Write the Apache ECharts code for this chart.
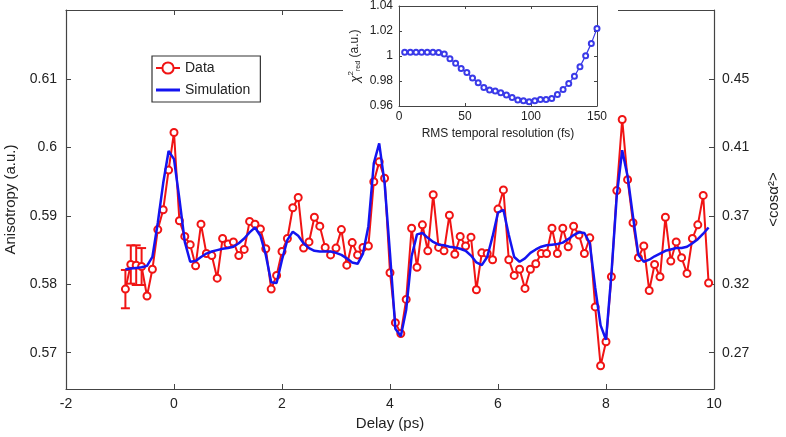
<!DOCTYPE html>
<html>
<head>
<meta charset="utf-8">
<script src="https://cdn.jsdelivr.net/npm/echarts@6/dist/echarts.min.js"></script>
<style>
  html, body { margin: 0; padding: 0; background: #fff; }
  #main { width: 786px; height: 437px; }
</style>
</head>
<body>
<div id="main"></div>
<script>
// delay axis (ps), one sample every 0.1 ps
var delay = [-0.9,-0.8,-0.7,-0.6,-0.5,-0.4,-0.3,-0.2,-0.1,0.0,
  0.1,0.2,0.3,0.4,0.5,0.6,0.7,0.8,0.9,1.0,
  1.1,1.2,1.3,1.4,1.5,1.6,1.7,1.8,1.9,2.0,
  2.1,2.2,2.3,2.4,2.5,2.6,2.7,2.8,2.9,3.0,
  3.1,3.2,3.3,3.4,3.5,3.6,3.7,3.8,3.9,4.0,
  4.1,4.2,4.3,4.4,4.5,4.6,4.7,4.8,4.9,5.0,
  5.1,5.2,5.3,5.4,5.5,5.6,5.7,5.8,5.9,6.0,
  6.1,6.2,6.3,6.4,6.5,6.6,6.7,6.8,6.9,7.0,
  7.1,7.2,7.3,7.4,7.5,7.6,7.7,7.8,7.9,8.0,
  8.1,8.2,8.3,8.4,8.5,8.6,8.7,8.8,8.9,9.0,
  9.1,9.2,9.3,9.4,9.5,9.6,9.7,9.8,9.9];

// measured anisotropy
var dataAniso = [0.5793,0.5829,0.5828,0.5826,0.5783,0.5822,0.5880,0.5909,0.5967,0.6022,
  0.5893,0.5870,0.5858,0.5827,0.5888,0.5845,0.5842,0.5809,0.5867,0.5859,
  0.5862,0.5842,0.5851,0.5892,0.5888,0.5881,0.5852,0.5793,0.5813,0.5848,
  0.5867,0.5912,0.5927,0.5853,0.5862,0.5898,0.5885,0.5854,0.5843,0.5853,
  0.5880,0.5828,0.5861,0.5843,0.5854,0.5856,0.5950,0.5979,0.5955,0.5817,
  0.5744,0.5728,0.5778,0.5882,0.5825,0.5887,0.5849,0.5931,0.5854,0.5849,
  0.5901,0.5844,0.5870,0.5856,0.5869,0.5792,0.5846,0.5845,0.5836,0.5910,
  0.5938,0.5836,0.5813,0.5822,0.5794,0.5822,0.5830,0.5845,0.5845,0.5882,
  0.5845,0.5882,0.5855,0.5885,0.5872,0.5845,0.5868,0.5767,0.5681,0.5716,
  0.5811,0.5937,0.6041,0.5953,0.5890,0.5839,0.5856,0.5791,0.5829,0.5811,
  0.5898,0.5834,0.5862,0.5839,0.5816,0.5867,0.5887,0.5930,0.5802];

// simulated anisotropy
var simAniso = [0.5822,0.5823,0.5824,0.5825,0.5827,0.5840,0.5890,0.5948,0.5995,0.5983,
  0.5925,0.5862,0.5833,0.5834,0.5840,0.5845,0.5848,0.5850,0.5852,0.5853,
  0.5855,0.5860,0.5867,0.5876,0.5883,0.5871,0.5843,0.5803,0.5802,0.5836,
  0.5865,0.5877,0.5871,0.5860,0.5853,0.5849,0.5848,0.5848,0.5848,0.5846,
  0.5843,0.5838,0.5832,0.5830,0.5845,0.5885,0.5977,0.6006,0.5948,0.5845,
  0.5735,0.5724,0.5763,0.5841,0.5873,0.5875,0.5868,0.5862,0.5858,0.5857,
  0.5855,0.5854,0.5852,0.5849,0.5842,0.5832,0.5828,0.5840,0.5870,0.5905,
  0.5909,0.5872,0.5840,0.5833,0.5838,0.5846,0.5851,0.5855,0.5857,0.5858,
  0.5859,0.5861,0.5866,0.5872,0.5876,0.5875,0.5860,0.5795,0.5740,0.5719,
  0.5815,0.5930,0.5996,0.5958,0.5899,0.5843,0.5833,0.5836,0.5841,0.5845,
  0.5849,0.5851,0.5853,0.5853,0.5855,0.5860,0.5866,0.5874,0.5883];

// error bars on the first few points (half widths)
var errDelay = [-0.9,-0.8,-0.7,-0.6];
var errHalf = [0.0028,0.0028,0.0029,0.0027];

// axis ticks
var leftTicks = [0.57,0.58,0.59,0.60,0.61];
var leftTickLabels = ['0.57','0.58','0.59','0.6','0.61'];
var rightTickLabels = ['0.27','0.32','0.37','0.41','0.45'];

// inset: reduced chi^2 vs RMS temporal resolution
var insetRes = [4.3,8.6,12.9,17.1,21.4,25.7,30.0,34.3,38.6,42.9,
  47.1,51.4,55.7,60.0,64.3,68.6,72.9,77.1,81.4,85.7,
  90.0,94.3,98.6,102.9,107.1,111.4,115.7,120.0,124.3,128.6,
  132.9,137.1,141.4,145.7,150.0];
var insetChi = [1.0030,1.0030,1.0030,1.0030,1.0030,1.0030,1.0029,1.0016,0.9979,0.9942,
  0.9901,0.9869,0.9824,0.9787,0.9749,0.9728,0.9720,0.9707,0.9688,0.9669,
  0.9648,0.9642,0.9634,0.9642,0.9653,0.9653,0.9661,0.9693,0.9733,0.9781,
  0.9838,0.9915,1.0003,1.0101,1.0221];

var FONT = 'Liberation Sans, Arial, sans-serif';
var AXIS_COL = '#444';

var dataPts = [], simPts = [], errPts = [], insetPts = [];
for (var i = 0; i < delay.length; i++) {
    dataPts.push([delay[i], dataAniso[i]]);
    simPts.push([delay[i], simAniso[i]]);
}
for (var j = 0; j < errDelay.length; j++) {
    var c = dataAniso[delay.indexOf(errDelay[j])];
    errPts.push([errDelay[j], c - errHalf[j], c + errHalf[j]]);
}
for (var k = 0; k < insetRes.length; k++) {
    insetPts.push([insetRes[k], insetChi[k]]);
}

function tickLabel(list, v) {
    for (var n = 0; n < leftTicks.length; n++) {
        if (Math.abs(leftTicks[n] - v) < 1e-6) return list[n];
    }
    return '';
}

var myChart = echarts.init(document.getElementById('main'));

var option = {
    backgroundColor: '#fff',
    animation: false,
    textStyle: { fontFamily: FONT },
    graphic: [
        // inset panel background, hides the main frame behind it
        { type: 'rect', left: 343, top: 0, z: 3,
          shape: { width: 275, height: 142 }, style: { fill: '#fff' } }
    ],
    legend: {
        left: 152, top: 56,
        orient: 'vertical',
        data: [
            { name: 'Data' },
            { name: 'Simulation', icon: 'path://M0,0 L24,0 L24,3 L0,3 Z' }
        ],
        itemWidth: 24, itemHeight: 14, itemGap: 8,
        padding: [5, 10, 5, 3],
        borderColor: '#333', borderWidth: 1.2,
        backgroundColor: '#fff',
        textStyle: { fontSize: 14, color: '#222', fontFamily: FONT }
    },
    grid: [
        { left: 66, right: 72, top: 10, bottom: 48, outerBoundsMode: 'none', containLabel: false },
        { left: 399, top: 6, width: 198, height: 100, outerBoundsMode: 'none', containLabel: false }
    ],
    xAxis: [
        {
            type: 'value', gridIndex: 0, min: -2, max: 10, interval: 2,
            name: 'Delay (ps)', nameLocation: 'middle', nameGap: 27,
            nameTextStyle: { fontSize: 15, color: '#222' },
            axisLine: { onZero: false, lineStyle: { color: AXIS_COL, width: 1.2 } },
            axisTick: { inside: true, length: 5, lineStyle: { color: AXIS_COL } },
            axisLabel: { fontSize: 14, color: '#222', margin: 8 },
            splitLine: { show: false }
        },
        {
            type: 'value', gridIndex: 0, position: 'top', min: -2, max: 10, interval: 2,
            axisLine: { onZero: false, lineStyle: { color: AXIS_COL, width: 1.2 } },
            axisTick: { inside: true, length: 5, lineStyle: { color: AXIS_COL } },
            axisLabel: { show: false },
            splitLine: { show: false }
        },
        {
            type: 'value', gridIndex: 1, min: 0, max: 150, interval: 50, z: 5,
            name: 'RMS temporal resolution (fs)', nameLocation: 'middle', nameGap: 22,
            nameTextStyle: { fontSize: 12, color: '#222' },
            axisLine: { onZero: false, lineStyle: { color: AXIS_COL } },
            axisTick: { inside: true, length: 3, lineStyle: { color: AXIS_COL } },
            axisLabel: { fontSize: 12, color: '#222', margin: 5 },
            splitLine: { show: false }
        },
        {
            type: 'value', gridIndex: 1, position: 'top', min: 0, max: 150, interval: 50, z: 5,
            axisLine: { onZero: false, lineStyle: { color: AXIS_COL } },
            axisTick: { inside: true, length: 3, lineStyle: { color: AXIS_COL } },
            axisLabel: { show: false },
            splitLine: { show: false }
        }
    ],
    yAxis: [
        {
            type: 'value', gridIndex: 0, min: 0.5647, max: 0.6201,
            name: 'Anisotropy (a.u.)', nameLocation: 'middle', nameGap: 47, nameRotate: 90,
            nameTextStyle: { fontSize: 15, color: '#222' },
            axisLine: { onZero: false, lineStyle: { color: AXIS_COL, width: 1.2 } },
            axisTick: { inside: true, length: 5, customValues: leftTicks, lineStyle: { color: AXIS_COL } },
            axisLabel: { fontSize: 14, color: '#222', margin: 9, customValues: leftTicks,
                formatter: function (v) { return tickLabel(leftTickLabels, v); } },
            splitLine: { show: false }
        },
        {
            type: 'value', gridIndex: 0, position: 'right', min: 0.5647, max: 0.6201,
            name: '<cosα²>', nameLocation: 'middle', nameGap: 52, nameRotate: 90,
            nameTextStyle: { fontSize: 15, color: '#222' },
            axisLine: { onZero: false, lineStyle: { color: AXIS_COL, width: 1.2 } },
            axisTick: { inside: true, length: 5, customValues: leftTicks, lineStyle: { color: AXIS_COL } },
            axisLabel: { fontSize: 14, color: '#222', margin: 8, customValues: leftTicks,
                formatter: function (v) { return tickLabel(rightTickLabels, v); } },
            splitLine: { show: false }
        },
        {
            type: 'value', gridIndex: 1, min: 0.96, max: 1.04, interval: 0.02, z: 5,
            name: '{chi|χ}{sup|2}{sub|red}{n| (a.u.)}', nameLocation: 'middle', nameGap: 36, nameRotate: 90,
            nameTextStyle: {
                fontSize: 12, color: '#222',
                rich: {
                    chi: { fontSize: 13, fontStyle: 'italic', color: '#222' },
                    sup: { fontSize: 8, color: '#222', padding: [0, 0, 8, 0] },
                    sub: { fontSize: 7, color: '#222', padding: [6, 0, 0, 0] },
                    n: { fontSize: 12, color: '#222' }
                }
            },
            axisLine: { onZero: false, lineStyle: { color: AXIS_COL } },
            axisTick: { inside: true, length: 3, lineStyle: { color: AXIS_COL } },
            axisLabel: { fontSize: 12, color: '#222', margin: 6,
                formatter: function (v) { return String(Math.round(v * 100) / 100); } },
            splitLine: { show: false }
        },
        {
            type: 'value', gridIndex: 1, position: 'right', min: 0.96, max: 1.04, interval: 0.02, z: 5,
            axisLine: { onZero: false, lineStyle: { color: AXIS_COL } },
            axisTick: { inside: true, length: 3, lineStyle: { color: AXIS_COL } },
            axisLabel: { show: false },
            splitLine: { show: false }
        }
    ],
    series: [
        {
            name: 'Data', type: 'line', xAxisIndex: 0, yAxisIndex: 0,
            data: dataPts,
            symbol: 'emptyCircle', symbolSize: 7,
            itemStyle: { color: '#f01414', borderWidth: 1.6 },
            lineStyle: { color: '#f01414', width: 2 },
            z: 3
        },
        {
            name: 'Errors', type: 'custom', xAxisIndex: 0, yAxisIndex: 0,
            data: errPts,
            encode: { x: 0, y: [1, 2] },
            renderItem: function (params, api) {
                var lo = api.coord([api.value(0), api.value(1)]);
                var hi = api.coord([api.value(0), api.value(2)]);
                var w = 4.5;
                var st = { stroke: '#f01414', lineWidth: 2 };
                return {
                    type: 'group',
                    children: [
                        { type: 'line', shape: { x1: lo[0], y1: lo[1], x2: hi[0], y2: hi[1] }, style: st },
                        { type: 'line', shape: { x1: lo[0] - w, y1: lo[1], x2: lo[0] + w, y2: lo[1] }, style: st },
                        { type: 'line', shape: { x1: hi[0] - w, y1: hi[1], x2: hi[0] + w, y2: hi[1] }, style: st }
                    ]
                };
            },
            z: 3
        },
        {
            name: 'Simulation', type: 'line', xAxisIndex: 0, yAxisIndex: 0,
            data: simPts,
            showSymbol: false, symbol: 'none',
            itemStyle: { color: '#1414f0' },
            lineStyle: { color: '#1414f0', width: 2.5 },
            z: 4
        },
        {
            name: 'chi2', type: 'line', xAxisIndex: 2, yAxisIndex: 2,
            data: insetPts,
            symbol: 'emptyCircle', symbolSize: 5,
            itemStyle: { color: '#3a3ae8', borderWidth: 1 },
            lineStyle: { color: '#3a3ae8', width: 1.2 },
            z: 6
        }
    ]
};

myChart.setOption(option);
</script>
</body>
</html>
